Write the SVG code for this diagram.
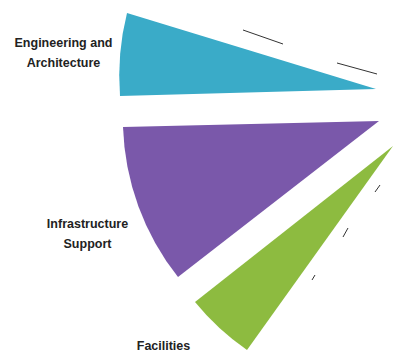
<svg xmlns="http://www.w3.org/2000/svg" width="396" height="354" viewBox="0 0 396 354">
<style>
.lbl{font-family:"Liberation Sans",Arial,sans-serif;font-weight:bold;font-size:12.5px;fill:#222;text-anchor:middle}
.dash{stroke:#333;stroke-width:1;fill:none}
</style>
<rect width="396" height="354" fill="#fff"/>
<g id="engineering">
<path d="M376 89 L127 13 A259 259 0 0 0 120 96 Z" fill="#3aabc8"/>
<text class="lbl" x="63.5" y="47">Engineering and</text>
<text class="lbl" x="63.5" y="67">Architecture</text>
</g>
<g id="infrastructure">
<path d="M379 121 L123 127 A255 255 0 0 0 178 277 Z" fill="#7a58aa"/>
<text class="lbl" x="87.5" y="228">Infrastructure</text>
<text class="lbl" x="87.5" y="248">Support</text>
</g>
<g id="facilities">
<path d="M393 146 L195 302 A251 251 0 0 0 247 350 Z" fill="#8dbb40"/>
<text class="lbl" x="163.5" y="350">Facilities</text>
</g>
<g id="connectors">
<line class="dash" x1="243" y1="30" x2="283" y2="44"/>
<line class="dash" x1="337" y1="63" x2="377" y2="74"/>
<line class="dash" x1="375" y1="192" x2="380" y2="185"/>
<line class="dash" x1="343" y1="237" x2="348" y2="228"/>
<line class="dash" x1="312" y1="280" x2="315" y2="275"/>
</g>
</svg>
